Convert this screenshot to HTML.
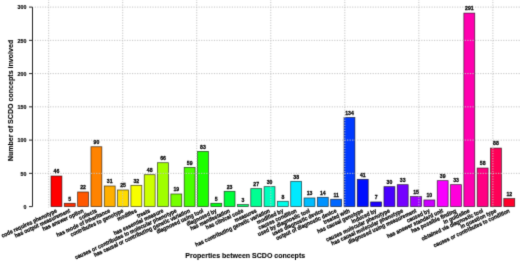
<!DOCTYPE html><html><head><meta charset="utf-8"><style>html,body{margin:0;padding:0;background:#fff;}svg{display:block;}#w{width:520px;height:262px;overflow:hidden;}text{font-family:"Liberation Sans",sans-serif;font-weight:bold;fill:#000;}</style></head><body>
<div id="w">
<svg width="520" height="262" viewBox="0 0 520 262"><defs><filter id="b" color-interpolation-filters="sRGB" x="0" y="0" width="520" height="262" filterUnits="userSpaceOnUse"><feConvolveMatrix order="3" kernelMatrix="0.0144 0.0912 0.0144 0.0912 0.5776 0.0912 0.0144 0.0912 0.0144" edgeMode="duplicate" preserveAlpha="true"/></filter></defs><g filter="url(#b)"><rect width="520" height="262" fill="#fff"/>
<rect x="51.00" y="176.01" width="10.90" height="30.59" fill="#ff0000" stroke="#000" stroke-opacity="0.70" stroke-width="0.75"/>
<rect x="64.32" y="203.28" width="10.90" height="3.33" fill="#ff2c00" stroke="#000" stroke-opacity="0.70" stroke-width="0.75"/>
<rect x="77.64" y="191.97" width="10.90" height="14.63" fill="#ff5700" stroke="#000" stroke-opacity="0.70" stroke-width="0.75"/>
<rect x="90.95" y="146.75" width="10.90" height="59.85" fill="#ff8300" stroke="#000" stroke-opacity="0.70" stroke-width="0.75"/>
<rect x="104.27" y="185.98" width="10.90" height="20.62" fill="#ffaf00" stroke="#000" stroke-opacity="0.70" stroke-width="0.75"/>
<rect x="117.59" y="189.97" width="10.90" height="16.62" fill="#ffdb00" stroke="#000" stroke-opacity="0.70" stroke-width="0.75"/>
<rect x="130.91" y="185.32" width="10.90" height="21.28" fill="#f8ff00" stroke="#000" stroke-opacity="0.70" stroke-width="0.75"/>
<rect x="144.23" y="174.68" width="10.90" height="31.92" fill="#ccff00" stroke="#000" stroke-opacity="0.70" stroke-width="0.75"/>
<rect x="157.54" y="162.71" width="10.90" height="43.89" fill="#a0ff00" stroke="#000" stroke-opacity="0.70" stroke-width="0.75"/>
<rect x="170.86" y="193.97" width="10.90" height="12.64" fill="#75ff00" stroke="#000" stroke-opacity="0.70" stroke-width="0.75"/>
<rect x="184.18" y="167.37" width="10.90" height="39.23" fill="#49ff00" stroke="#000" stroke-opacity="0.70" stroke-width="0.75"/>
<rect x="197.50" y="151.41" width="10.90" height="55.20" fill="#1dff00" stroke="#000" stroke-opacity="0.70" stroke-width="0.75"/>
<rect x="210.82" y="203.28" width="10.90" height="3.33" fill="#00ff0f" stroke="#000" stroke-opacity="0.70" stroke-width="0.75"/>
<rect x="224.13" y="191.31" width="10.90" height="15.30" fill="#00ff3a" stroke="#000" stroke-opacity="0.70" stroke-width="0.75"/>
<rect x="237.45" y="204.60" width="10.90" height="2.00" fill="#00ff66" stroke="#000" stroke-opacity="0.70" stroke-width="0.75"/>
<rect x="250.77" y="188.64" width="10.90" height="17.96" fill="#00ff92" stroke="#000" stroke-opacity="0.70" stroke-width="0.75"/>
<rect x="264.09" y="186.65" width="10.90" height="19.95" fill="#00ffbd" stroke="#000" stroke-opacity="0.70" stroke-width="0.75"/>
<rect x="277.41" y="201.28" width="10.90" height="5.32" fill="#00ffe9" stroke="#000" stroke-opacity="0.70" stroke-width="0.75"/>
<rect x="290.72" y="181.33" width="10.90" height="25.27" fill="#00e9ff" stroke="#000" stroke-opacity="0.70" stroke-width="0.75"/>
<rect x="304.04" y="197.95" width="10.90" height="8.64" fill="#00bdff" stroke="#000" stroke-opacity="0.70" stroke-width="0.75"/>
<rect x="317.36" y="197.29" width="10.90" height="9.31" fill="#0092ff" stroke="#000" stroke-opacity="0.70" stroke-width="0.75"/>
<rect x="330.68" y="199.28" width="10.90" height="7.32" fill="#0066ff" stroke="#000" stroke-opacity="0.70" stroke-width="0.75"/>
<rect x="344.00" y="117.49" width="10.90" height="89.11" fill="#003aff" stroke="#000" stroke-opacity="0.70" stroke-width="0.75"/>
<rect x="357.31" y="179.33" width="10.90" height="27.27" fill="#000fff" stroke="#000" stroke-opacity="0.70" stroke-width="0.75"/>
<rect x="370.63" y="201.94" width="10.90" height="4.66" fill="#1d00ff" stroke="#000" stroke-opacity="0.70" stroke-width="0.75"/>
<rect x="383.95" y="186.65" width="10.90" height="19.95" fill="#4900ff" stroke="#000" stroke-opacity="0.70" stroke-width="0.75"/>
<rect x="397.27" y="184.66" width="10.90" height="21.95" fill="#7500ff" stroke="#000" stroke-opacity="0.70" stroke-width="0.75"/>
<rect x="410.59" y="196.62" width="10.90" height="9.98" fill="#a000ff" stroke="#000" stroke-opacity="0.70" stroke-width="0.75"/>
<rect x="423.90" y="199.95" width="10.90" height="6.65" fill="#cc00ff" stroke="#000" stroke-opacity="0.70" stroke-width="0.75"/>
<rect x="437.22" y="180.66" width="10.90" height="25.94" fill="#f800ff" stroke="#000" stroke-opacity="0.70" stroke-width="0.75"/>
<rect x="450.54" y="184.66" width="10.90" height="21.95" fill="#ff00db" stroke="#000" stroke-opacity="0.70" stroke-width="0.75"/>
<rect x="463.86" y="13.08" width="10.90" height="193.52" fill="#ff00af" stroke="#000" stroke-opacity="0.70" stroke-width="0.75"/>
<rect x="477.18" y="168.03" width="10.90" height="38.57" fill="#ff0083" stroke="#000" stroke-opacity="0.70" stroke-width="0.75"/>
<rect x="490.49" y="148.08" width="10.90" height="58.52" fill="#ff0057" stroke="#000" stroke-opacity="0.70" stroke-width="0.75"/>
<rect x="503.81" y="198.62" width="10.90" height="7.98" fill="#ff002c" stroke="#000" stroke-opacity="0.70" stroke-width="0.75"/>
<path d="M34.70 173.35H520M34.70 140.10H520M34.70 106.85H520M34.70 73.60H520M34.70 40.35H520M34.70 7.10H520M48.70 -0.63V207.60M122.73 -0.63V207.60M196.76 -0.63V207.60M270.79 -0.63V207.60M344.82 -0.63V207.60M418.85 -0.63V207.60M492.88 -0.63V207.60" stroke="#c4c4c4" stroke-width="1.00" stroke-dasharray="1.2 1.36" fill="none"/>
<text transform="translate(56.45 173.41) scale(0.920 1)" font-size="5.60" text-anchor="middle" stroke="#000" stroke-width="0.25">46</text>
<text transform="translate(69.77 200.68) scale(0.920 1)" font-size="5.60" text-anchor="middle" stroke="#000" stroke-width="0.25">5</text>
<text transform="translate(83.09 189.37) scale(0.920 1)" font-size="5.60" text-anchor="middle" stroke="#000" stroke-width="0.25">22</text>
<text transform="translate(96.40 144.15) scale(0.920 1)" font-size="5.60" text-anchor="middle" stroke="#000" stroke-width="0.25">90</text>
<text transform="translate(109.72 183.38) scale(0.920 1)" font-size="5.60" text-anchor="middle" stroke="#000" stroke-width="0.25">31</text>
<text transform="translate(123.04 187.38) scale(0.920 1)" font-size="5.60" text-anchor="middle" stroke="#000" stroke-width="0.25">25</text>
<text transform="translate(136.36 182.72) scale(0.920 1)" font-size="5.60" text-anchor="middle" stroke="#000" stroke-width="0.25">32</text>
<text transform="translate(149.68 172.08) scale(0.920 1)" font-size="5.60" text-anchor="middle" stroke="#000" stroke-width="0.25">48</text>
<text transform="translate(162.99 160.11) scale(0.920 1)" font-size="5.60" text-anchor="middle" stroke="#000" stroke-width="0.25">66</text>
<text transform="translate(176.31 191.37) scale(0.920 1)" font-size="5.60" text-anchor="middle" stroke="#000" stroke-width="0.25">19</text>
<text transform="translate(189.63 164.77) scale(0.920 1)" font-size="5.60" text-anchor="middle" stroke="#000" stroke-width="0.25">59</text>
<text transform="translate(202.95 148.81) scale(0.920 1)" font-size="5.60" text-anchor="middle" stroke="#000" stroke-width="0.25">83</text>
<text transform="translate(216.27 200.68) scale(0.920 1)" font-size="5.60" text-anchor="middle" stroke="#000" stroke-width="0.25">5</text>
<text transform="translate(229.58 188.71) scale(0.920 1)" font-size="5.60" text-anchor="middle" stroke="#000" stroke-width="0.25">23</text>
<text transform="translate(242.90 202.00) scale(0.920 1)" font-size="5.60" text-anchor="middle" stroke="#000" stroke-width="0.25">3</text>
<text transform="translate(256.22 186.04) scale(0.920 1)" font-size="5.60" text-anchor="middle" stroke="#000" stroke-width="0.25">27</text>
<text transform="translate(269.54 184.05) scale(0.920 1)" font-size="5.60" text-anchor="middle" stroke="#000" stroke-width="0.25">30</text>
<text transform="translate(282.86 198.68) scale(0.920 1)" font-size="5.60" text-anchor="middle" stroke="#000" stroke-width="0.25">8</text>
<text transform="translate(296.17 178.73) scale(0.920 1)" font-size="5.60" text-anchor="middle" stroke="#000" stroke-width="0.25">38</text>
<text transform="translate(309.49 195.35) scale(0.920 1)" font-size="5.60" text-anchor="middle" stroke="#000" stroke-width="0.25">13</text>
<text transform="translate(322.81 194.69) scale(0.920 1)" font-size="5.60" text-anchor="middle" stroke="#000" stroke-width="0.25">14</text>
<text transform="translate(336.13 196.69) scale(0.920 1)" font-size="5.60" text-anchor="middle" stroke="#000" stroke-width="0.25">11</text>
<text transform="translate(349.45 114.89) scale(0.920 1)" font-size="5.60" text-anchor="middle" stroke="#000" stroke-width="0.25">134</text>
<text transform="translate(362.76 176.73) scale(0.920 1)" font-size="5.60" text-anchor="middle" stroke="#000" stroke-width="0.25">41</text>
<text transform="translate(376.08 199.34) scale(0.920 1)" font-size="5.60" text-anchor="middle" stroke="#000" stroke-width="0.25">7</text>
<text transform="translate(389.40 184.05) scale(0.920 1)" font-size="5.60" text-anchor="middle" stroke="#000" stroke-width="0.25">30</text>
<text transform="translate(402.72 182.06) scale(0.920 1)" font-size="5.60" text-anchor="middle" stroke="#000" stroke-width="0.25">33</text>
<text transform="translate(416.04 194.03) scale(0.920 1)" font-size="5.60" text-anchor="middle" stroke="#000" stroke-width="0.25">15</text>
<text transform="translate(429.35 197.35) scale(0.920 1)" font-size="5.60" text-anchor="middle" stroke="#000" stroke-width="0.25">10</text>
<text transform="translate(442.67 178.06) scale(0.920 1)" font-size="5.60" text-anchor="middle" stroke="#000" stroke-width="0.25">39</text>
<text transform="translate(455.99 182.06) scale(0.920 1)" font-size="5.60" text-anchor="middle" stroke="#000" stroke-width="0.25">33</text>
<text transform="translate(469.31 10.48) scale(0.920 1)" font-size="5.60" text-anchor="middle" stroke="#000" stroke-width="0.25">291</text>
<text transform="translate(482.63 165.43) scale(0.920 1)" font-size="5.60" text-anchor="middle" stroke="#000" stroke-width="0.25">58</text>
<text transform="translate(495.94 145.48) scale(0.920 1)" font-size="5.60" text-anchor="middle" stroke="#000" stroke-width="0.25">88</text>
<text transform="translate(509.26 196.02) scale(0.920 1)" font-size="5.60" text-anchor="middle" stroke="#000" stroke-width="0.25">12</text>
<path d="M32.50 7.10V206.60" stroke="#222" stroke-width="1" fill="none"/>
<text transform="translate(26.35 208.80) scale(0.890 1)" font-size="6.00" text-anchor="end" stroke="#000" stroke-width="0.15">0</text>
<text transform="translate(26.35 175.55) scale(0.890 1)" font-size="6.00" text-anchor="end" stroke="#000" stroke-width="0.15">50</text>
<text transform="translate(26.35 142.30) scale(0.890 1)" font-size="6.00" text-anchor="end" stroke="#000" stroke-width="0.15">100</text>
<text transform="translate(26.35 109.05) scale(0.890 1)" font-size="6.00" text-anchor="end" stroke="#000" stroke-width="0.15">150</text>
<text transform="translate(26.35 75.80) scale(0.890 1)" font-size="6.00" text-anchor="end" stroke="#000" stroke-width="0.15">200</text>
<text transform="translate(26.35 42.55) scale(0.890 1)" font-size="6.00" text-anchor="end" stroke="#000" stroke-width="0.15">250</text>
<text transform="translate(26.35 9.30) scale(0.890 1)" font-size="6.00" text-anchor="end" stroke="#000" stroke-width="0.15">300</text>
<path d="M29.00 206.60H32.50M29.00 173.35H32.50M29.00 140.10H32.50M29.00 106.85H32.50M29.00 73.60H32.50M29.00 40.35H32.50M29.00 7.10H32.50" stroke="#222" stroke-width="1" fill="none"/>
<text transform="translate(56.45 210.30) rotate(-25.10) scale(0.8793 1)" font-size="5.80" text-anchor="end" dy="0.35em" stroke="#000" stroke-width="0.25">code requires phenotype</text>
<text transform="translate(69.77 210.30) rotate(-25.10) scale(0.8793 1)" font-size="5.80" text-anchor="end" dy="0.35em" stroke="#000" stroke-width="0.25">has output measurement</text>
<text transform="translate(83.09 210.30) rotate(-25.10) scale(0.8793 1)" font-size="5.80" text-anchor="end" dy="0.35em" stroke="#000" stroke-width="0.25">has answer option</text>
<text transform="translate(96.40 210.30) rotate(-25.10) scale(0.8793 1)" font-size="5.80" text-anchor="end" dy="0.35em" stroke="#000" stroke-width="0.25">collects</text>
<text transform="translate(109.72 210.30) rotate(-25.10) scale(0.8793 1)" font-size="5.80" text-anchor="end" dy="0.35em" stroke="#000" stroke-width="0.25">has mode of inheritance</text>
<text transform="translate(123.04 210.30) rotate(-25.10) scale(0.8793 1)" font-size="5.80" text-anchor="end" dy="0.35em" stroke="#000" stroke-width="0.25">contributes to genotype</text>
<text transform="translate(136.36 210.30) rotate(-25.10) scale(0.8793 1)" font-size="5.80" text-anchor="end" dy="0.35em" stroke="#000" stroke-width="0.25">modifies</text>
<text transform="translate(149.68 210.30) rotate(-25.10) scale(0.8793 1)" font-size="5.80" text-anchor="end" dy="0.35em" stroke="#000" stroke-width="0.25">treats</text>
<text transform="translate(162.99 210.30) rotate(-25.10) scale(0.8793 1)" font-size="5.80" text-anchor="end" dy="0.35em" stroke="#000" stroke-width="0.25">has essential measure</text>
<text transform="translate(176.31 210.30) rotate(-25.10) scale(0.8793 1)" font-size="5.80" text-anchor="end" dy="0.35em" stroke="#000" stroke-width="0.25">causes or contributes to molecular phenotype</text>
<text transform="translate(189.63 210.30) rotate(-25.10) scale(0.8793 1)" font-size="5.80" text-anchor="end" dy="0.35em" stroke="#000" stroke-width="0.25">has causal or contributing genetic variation</text>
<text transform="translate(202.95 210.30) rotate(-25.10) scale(0.8793 1)" font-size="5.80" text-anchor="end" dy="0.35em" stroke="#000" stroke-width="0.25">diagnosed using tool</text>
<text transform="translate(216.27 210.30) rotate(-25.10) scale(0.8793 1)" font-size="5.80" text-anchor="end" dy="0.35em" stroke="#000" stroke-width="0.25">diagnosed by</text>
<text transform="translate(229.58 210.30) rotate(-25.10) scale(0.8793 1)" font-size="5.80" text-anchor="end" dy="0.35em" stroke="#000" stroke-width="0.25">has manifestation</text>
<text transform="translate(242.90 210.30) rotate(-25.10) scale(0.8793 1)" font-size="5.80" text-anchor="end" dy="0.35em" stroke="#000" stroke-width="0.25">has clinical code</text>
<text transform="translate(256.22 210.30) rotate(-25.10) scale(0.8793 1)" font-size="5.80" text-anchor="end" dy="0.35em" stroke="#000" stroke-width="0.25">measures</text>
<text transform="translate(269.54 210.30) rotate(-25.10) scale(0.8793 1)" font-size="5.80" text-anchor="end" dy="0.35em" stroke="#000" stroke-width="0.25">has contributing genetic variation</text>
<text transform="translate(282.86 210.30) rotate(-25.10) scale(0.8793 1)" font-size="5.80" text-anchor="end" dy="0.35em" stroke="#000" stroke-width="0.25">modified by</text>
<text transform="translate(296.17 210.30) rotate(-25.10) scale(0.8793 1)" font-size="5.80" text-anchor="end" dy="0.35em" stroke="#000" stroke-width="0.25">causes condition</text>
<text transform="translate(309.49 210.30) rotate(-25.10) scale(0.8793 1)" font-size="5.80" text-anchor="end" dy="0.35em" stroke="#000" stroke-width="0.25">used by diagnostic tool</text>
<text transform="translate(322.81 210.30) rotate(-25.10) scale(0.8793 1)" font-size="5.80" text-anchor="end" dy="0.35em" stroke="#000" stroke-width="0.25">uses diagnostic device</text>
<text transform="translate(336.13 210.30) rotate(-25.10) scale(0.8793 1)" font-size="5.80" text-anchor="end" dy="0.35em" stroke="#000" stroke-width="0.25">output of diagnostic device</text>
<text transform="translate(349.45 210.30) rotate(-25.10) scale(0.8793 1)" font-size="5.80" text-anchor="end" dy="0.35em" stroke="#000" stroke-width="0.25">treated with</text>
<text transform="translate(362.76 210.30) rotate(-25.10) scale(0.8793 1)" font-size="5.80" text-anchor="end" dy="0.35em" stroke="#000" stroke-width="0.25">has causal genotype</text>
<text transform="translate(376.08 210.30) rotate(-25.10) scale(0.8793 1)" font-size="5.80" text-anchor="end" dy="0.35em" stroke="#000" stroke-width="0.25">induced by</text>
<text transform="translate(389.40 210.30) rotate(-25.10) scale(0.8793 1)" font-size="5.80" text-anchor="end" dy="0.35em" stroke="#000" stroke-width="0.25">causes molecular phenotype</text>
<text transform="translate(402.72 210.30) rotate(-25.10) scale(0.8793 1)" font-size="5.80" text-anchor="end" dy="0.35em" stroke="#000" stroke-width="0.25">has causal molecular phenotype</text>
<text transform="translate(416.04 210.30) rotate(-25.10) scale(0.8793 1)" font-size="5.80" text-anchor="end" dy="0.35em" stroke="#000" stroke-width="0.25">diagnosed using measurement</text>
<text transform="translate(429.35 210.30) rotate(-25.10) scale(0.8793 1)" font-size="5.80" text-anchor="end" dy="0.35em" stroke="#000" stroke-width="0.25">caused by</text>
<text transform="translate(442.67 210.30) rotate(-25.10) scale(0.8793 1)" font-size="5.80" text-anchor="end" dy="0.35em" stroke="#000" stroke-width="0.25">has answer standard unit</text>
<text transform="translate(455.99 210.30) rotate(-25.10) scale(0.8793 1)" font-size="5.80" text-anchor="end" dy="0.35em" stroke="#000" stroke-width="0.25">has possible finding</text>
<text transform="translate(469.31 210.30) rotate(-25.10) scale(0.8793 1)" font-size="5.80" text-anchor="end" dy="0.35em" stroke="#000" stroke-width="0.25">in guideline</text>
<text transform="translate(482.63 210.30) rotate(-25.10) scale(0.8793 1)" font-size="5.80" text-anchor="end" dy="0.35em" stroke="#000" stroke-width="0.25">obtained via diagnostic tool</text>
<text transform="translate(495.94 210.30) rotate(-25.10) scale(0.8793 1)" font-size="5.80" text-anchor="end" dy="0.35em" stroke="#000" stroke-width="0.25">in question type</text>
<text transform="translate(509.26 210.30) rotate(-25.10) scale(0.8793 1)" font-size="5.80" text-anchor="end" dy="0.35em" stroke="#000" stroke-width="0.25">causes or contributes to condition</text>
<text transform="translate(245.25 258.30) scale(0.925 1)" font-size="7.60" text-anchor="middle" stroke="#000" stroke-width="0.10">Properties between SCDO concepts</text>
<text transform="translate(12.95 100.50) rotate(-90) scale(0.885 1)" font-size="8.00" text-anchor="middle" stroke="#000" stroke-width="0.10">Number of SCDO concepts involved</text>
</g></svg></div></body></html>
